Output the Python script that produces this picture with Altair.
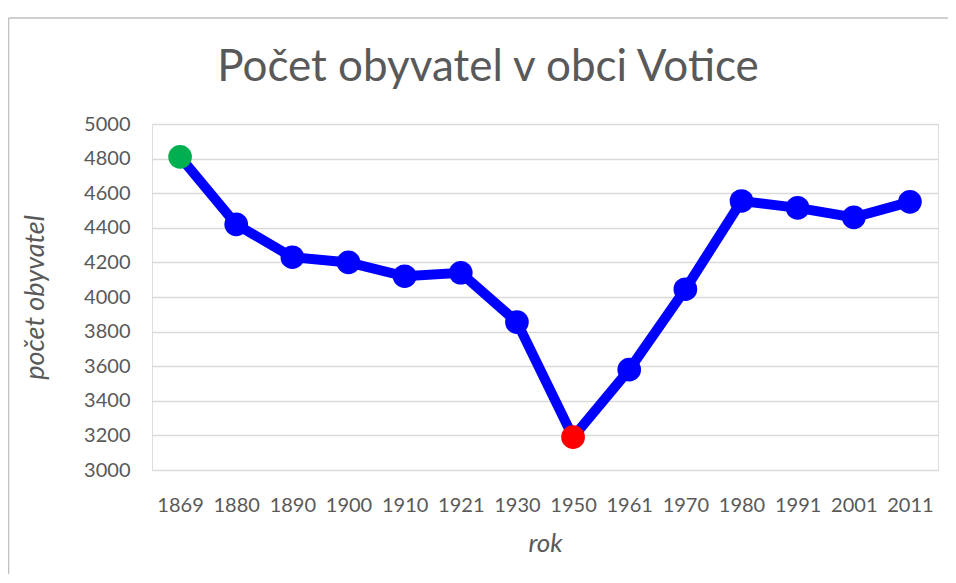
import altair as alt
import pandas as pd

years = ["1869", "1880", "1890", "1900", "1910", "1921", "1930", "1950", "1961", "1970", "1980", "1991", "2001", "2011"]
population = [4810, 4420, 4230, 4200, 4120, 4140, 3855, 3190, 3580, 4045, 4555, 4515, 4460, 4550]
point_colors = ["#00b050", "#0000ff", "#0000ff", "#0000ff", "#0000ff", "#0000ff", "#0000ff", "#ff0000",
                "#0000ff", "#0000ff", "#0000ff", "#0000ff", "#0000ff", "#0000ff"]
title_text = "Počet obyvatel v obci Votice"

df = pd.DataFrame({"rok": years, "pocet": population, "barva": point_colors})

FONT = "Lato"
GRAY = "#595959"

x = alt.X("rok:N", sort=years,
          scale=alt.Scale(paddingOuter=0.5),
          axis=alt.Axis(title="rok", labelAngle=0, labelFontSize=20, labelColor=GRAY, labelFont=FONT,
                        labelPadding=25, ticks=False, domain=False, grid=False,
                        titleFont=FONT, titleFontSize=26, titleFontStyle="italic", titleFontWeight="normal",
                        titleColor=GRAY, titleBaseline="middle", titleY=73, titleX=393))
y = alt.Y("pocet:Q",
          scale=alt.Scale(domain=[3000, 5000], nice=False, zero=False),
          axis=alt.Axis(title="počet obyvatel", values=list(range(3000, 5001, 200)), format="d",
                        labelFontSize=20, labelColor=GRAY, labelFont=FONT, labelPadding=22,
                        ticks=False, domain=False,
                        grid=True, gridColor="#d9d9d9", gridWidth=1.5,
                        titleFont=FONT, titleFontSize=27, titleFontStyle="italic", titleFontWeight="normal",
                        titleColor=GRAY, titleAngle=-90, titleBaseline="middle", titleX=-117, titleY=173))

single = pd.DataFrame({"t": [title_text]})

border_left = alt.Chart(single).mark_rule(color="#bfbfbf", strokeWidth=1.5).encode(
    x=alt.value(-143.5), y=alt.value(-106), y2=alt.value(700))
border_top = alt.Chart(single).mark_rule(color="#bfbfbf", strokeWidth=1.5).encode(
    x=alt.value(-143.5), x2=alt.value(1000), y=alt.value(-106))

title = alt.Chart(single).mark_text(
    font=FONT, fontSize=44, color=GRAY, align="center", baseline="middle"
).encode(text="t:N", x=alt.value(336), y=alt.value(-56))

line = alt.Chart(df).mark_line(color="#0000ff", strokeWidth=10).encode(x=x, y=y)
points = alt.Chart(df).mark_circle(size=560, opacity=1).encode(
    x=x, y=y, color=alt.Color("barva:N", scale=None))

chart = alt.layer(border_left, border_top, title, line, points).properties(
    width=786, height=346,
    autosize=alt.AutoSizeParams(type="none"),
    padding={"left": 144, "top": 116, "right": 10, "bottom": 104},
).configure_view(stroke=None).configure(background="white")

chart.save("out.html", embed_options={"renderer": "svg", "actions": False})
